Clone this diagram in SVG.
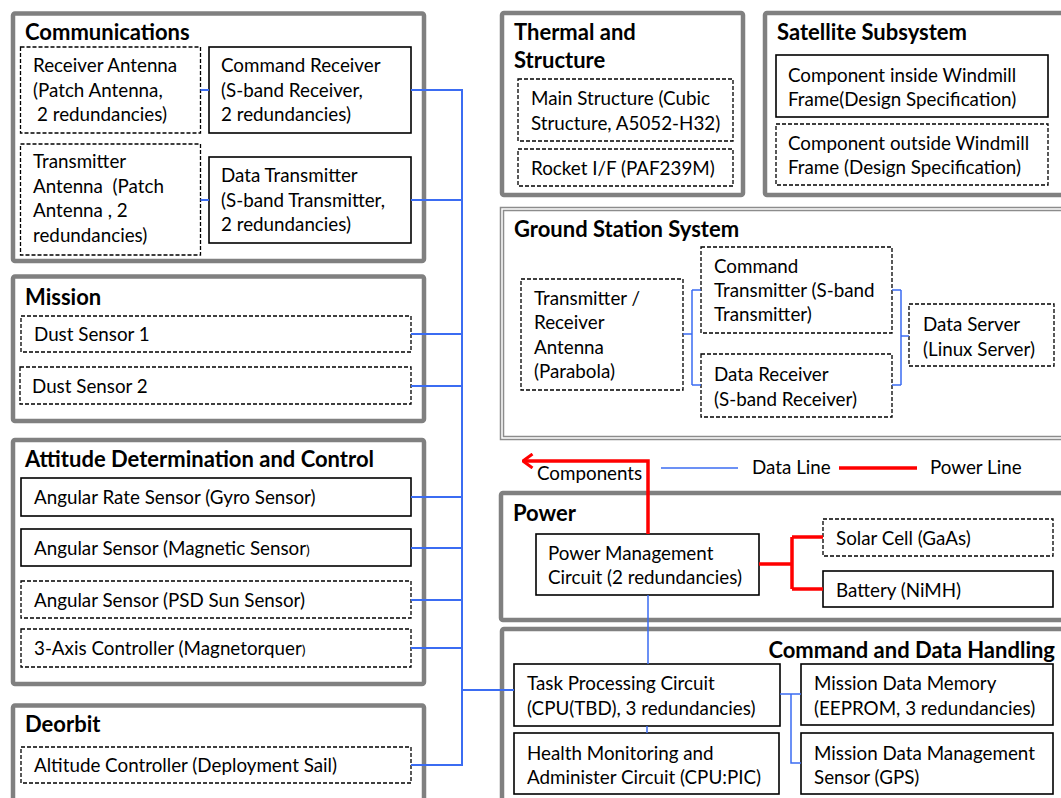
<svg xmlns="http://www.w3.org/2000/svg" width="1061" height="798" viewBox="0 0 1061 798">
<style>
.big{fill:#fff;stroke:#808080;stroke-width:4.5}
.gs{fill:none;stroke:#8c8c8c;stroke-width:1.5}
.solid{fill:#fff;stroke:#000;stroke-width:1.6}
.dash{fill:#fff;stroke:#000;stroke-width:1.3;stroke-dasharray:4 2}
text{font-family:Lato,"Liberation Sans",sans-serif;font-size:18.8px;fill:#000}
.h{font-weight:bold;font-size:22px}
.data{stroke:#3b6cf2;stroke-width:2;fill:none}
.thin{stroke:#3b6cf2;stroke-width:1.5;fill:none}
.pw{stroke:#ff0000;stroke-width:3.5;fill:none}
</style>
<defs>
<marker id="arr" viewBox="0 0 12 16" refX="10.5" refY="8" markerWidth="12" markerHeight="16" markerUnits="userSpaceOnUse" orient="auto">
<path d="M1 1 L10.5 8 L1 15" fill="none" stroke="#ff0000" stroke-width="3"/>
</marker>
</defs>
<rect width="1061" height="798" fill="#fff"/>

<g id="communications">
<rect class="big" x="13" y="13.5" width="411" height="247.5" rx="2"/>
<text class="h" x="25" y="40">Communications</text>
<rect class="dash" x="20.5" y="47" width="180" height="86"/>
<text x="33" y="72">Receiver Antenna</text>
<text x="33" y="97">(Patch Antenna,</text>
<text x="37" y="121">2 redundancies)</text>
<rect class="solid" x="209" y="47" width="202" height="86"/>
<text x="221" y="72">Command Receiver</text>
<text x="221" y="97">(S-band Receiver,</text>
<text x="221" y="121">2 redundancies)</text>
<rect class="dash" x="20.5" y="144" width="180" height="111"/>
<text x="33" y="168">Transmitter</text>
<text x="33" y="193" xml:space="preserve">Antenna  (Patch</text>
<text x="33" y="217">Antenna , 2</text>
<text x="33" y="242">redundancies)</text>
<rect class="solid" x="209" y="157" width="202" height="86"/>
<text x="221" y="182">Data Transmitter</text>
<text x="221" y="207">(S-band Transmitter,</text>
<text x="221" y="231">2 redundancies)</text>
</g>

<g id="mission">
<rect class="big" x="13" y="276.5" width="411" height="144.5" rx="2"/>
<text class="h" x="25" y="305">Mission</text>
<rect class="dash" x="21" y="316" width="390" height="36"/>
<text x="34" y="341">Dust Sensor 1</text>
<rect class="dash" x="20" y="367" width="391" height="37"/>
<text x="32" y="393">Dust Sensor 2</text>
</g>

<g id="attitude">
<rect class="big" x="13" y="440" width="411" height="244" rx="2"/>
<text class="h" x="25" y="467">Attitude Determination and Control</text>
<rect class="solid" x="21" y="478" width="390" height="38"/>
<text x="34" y="504">Angular Rate Sensor (Gyro Sensor)</text>
<rect class="solid" x="21" y="529" width="390" height="37"/>
<text x="34" y="555">Angular Sensor (Magnetic Sensor<tspan font-size="14">)</tspan></text>
<rect class="dash" x="21" y="581" width="390" height="37"/>
<text x="34" y="607">Angular Sensor (PSD Sun Sensor)</text>
<rect class="dash" x="21" y="629" width="390" height="38"/>
<text x="34" y="655">3-Axis Controller (Magnetorquer<tspan font-size="14">)</tspan></text>
</g>

<g id="deorbit">
<rect class="big" x="13" y="705.5" width="411" height="110" rx="2"/>
<text class="h" x="25" y="732">Deorbit</text>
<rect class="dash" x="21" y="747" width="390" height="36"/>
<text x="34" y="772">Altitude Controller (Deployment Sail)</text>
</g>

<g id="thermal">
<rect class="big" x="502" y="13" width="241" height="182" rx="2"/>
<text class="h" x="514" y="40">Thermal and</text>
<text class="h" x="514" y="68">Structure</text>
<rect class="dash" x="518" y="79" width="215" height="62"/>
<text x="531" y="105">Main Structure (Cubic</text>
<text x="531" y="130">Structure, A5052-H32)</text>
<rect class="dash" x="518" y="149" width="215" height="37"/>
<text x="531" y="175">Rocket I/F (PAF239M)</text>
</g>

<g id="satellite">
<rect class="big" x="765" y="13" width="310" height="182" rx="2"/>
<text class="h" x="777" y="40">Satellite Subsystem</text>
<rect class="solid" x="776" y="55" width="272" height="62"/>
<text x="788" y="82">Component inside Windmill</text>
<text x="788" y="106">Frame(Design Specification)</text>
<rect class="dash" x="776" y="124" width="272" height="61"/>
<text x="788" y="150">Component outside Windmill</text>
<text x="788" y="174">Frame (Design Specification)</text>
</g>

<g id="ground">
<rect class="gs" x="500.5" y="207.5" width="580" height="232"/>
<rect class="gs" x="503.5" y="210.5" width="580" height="226" stroke-width="1"/>
<text class="h" x="514" y="237">Ground Station System</text>
<rect class="dash" x="521" y="279" width="162" height="111"/>
<text x="534" y="305">Transmitter /</text>
<text x="534" y="329">Receiver</text>
<text x="534" y="354">Antenna</text>
<text x="534" y="378">(Parabola)</text>
<rect class="dash" x="701" y="247" width="191" height="86"/>
<text x="714" y="273">Command</text>
<text x="714" y="297">Transmitter (S-band</text>
<text x="714" y="321">Transmitter)</text>
<rect class="dash" x="701" y="354" width="191" height="63"/>
<text x="714" y="381">Data Receiver</text>
<text x="714" y="406">(S-band Receiver)</text>
<rect class="dash" x="909" y="304" width="145" height="62"/>
<text x="923" y="331">Data Server</text>
<text x="923" y="356">(Linux Server)</text>
</g>

<g id="legend">
<text x="537" y="480">Components</text>
<line class="thin" x1="661" y1="468" x2="738" y2="468"/>
<text x="752" y="474">Data Line</text>
<line class="pw" x1="839" y1="468" x2="917" y2="468"/>
<text x="930" y="474">Power Line</text>
</g>

<g id="power">
<rect class="big" x="501" y="493" width="580" height="127" rx="2"/>
<text class="h" x="513" y="521">Power</text>
<rect class="solid" x="536" y="534" width="223" height="61"/>
<text x="548" y="560">Power Management</text>
<text x="548" y="584">Circuit (2 redundancies)</text>
<rect class="dash" x="823" y="519" width="230" height="37"/>
<text x="836" y="545">Solar Cell (GaAs)</text>
<rect class="solid" x="823" y="571" width="230" height="36"/>
<text x="836" y="597">Battery (NiMH)</text>
</g>

<g id="cdh">
<rect class="big" x="502" y="629" width="580" height="200" rx="2"/>
<text class="h" x="1055" y="658" text-anchor="end">Command and Data Handling</text>
<rect class="solid" x="514" y="664" width="266" height="62"/>
<text x="527" y="690">Task Processing Circuit</text>
<text x="527" y="715">(CPU(TBD), 3 redundancies)</text>
<rect class="solid" x="514" y="733" width="265" height="61"/>
<text x="527" y="760">Health Monitoring and</text>
<text x="527" y="784">Administer Circuit (CPU:PIC)</text>
<rect class="solid" x="801" y="664" width="252" height="61"/>
<text x="814" y="690">Mission Data Memory</text>
<text x="814" y="715">(EEPROM, 3 redundancies)</text>
<rect class="solid" x="801" y="733" width="252" height="61"/>
<text x="814" y="760">Mission Data Management</text>
<text x="814" y="784">Sensor (GPS)</text>
</g>

<g id="connectors">
<path class="data" d="M200.5 90 H209 M200.5 200 H209"/>
<path class="data" d="M411 90 H462 M411 200 H462 M462 89 V766"/>
<path class="data" d="M411 334 H462 M411 386 H462 M411 497 H462 M411 548 H462 M411 600 H462 M411 648 H462 M411 765 H462 M462 690 H514"/>
<path class="thin" d="M683 334 H692 M692 290 V385 M692 290 H701 M692 385 H701"/>
<path class="thin" d="M892 290 H901 M892 385 H901 M901 290 V385 M901 336 H909"/>
<path class="thin" d="M648 595 V664 M647 726 V733"/>
<path class="thin" d="M780 694 H801 M791 694 V763 H801"/>
<path class="pw" d="M759 564 H792 M792 537 V589 M792 537 H823 M792 589 H823"/>
<path class="pw" d="M648 534 V461 H523" marker-end="url(#arr)"/>
</g>
</svg>
